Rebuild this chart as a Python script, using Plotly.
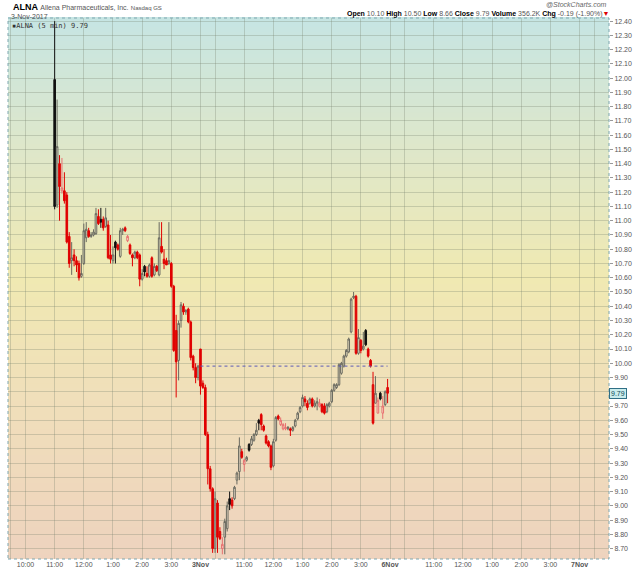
import plotly.graph_objects as go

# ---------------- data ----------------
symbol = "ALNA"
company = "Allena Pharmaceuticals, Inc."
exchange = "Nasdaq GS"
chart_date = "3-Nov-2017"
volume_text = "356.2K"
prev_close = 9.98

bars_per_day = 78          # 9:30 - 16:00, 5-minute bars
nov2_start_slot = 18       # first trade at 11:00
nov3_start_slot = 0

nov2_open = [11.99, 11.11, 11.40, 11.21, 11.21, 11.18, 10.89, 10.72, 10.76, 10.72,
             10.70, 10.61, 10.70, 10.88, 10.93, 10.89, 10.90, 10.91, 11.03, 11.01,
             11.01, 10.96, 10.97, 10.76, 10.72, 10.85, 10.83, 10.75, 10.93, 10.95,
             10.86, 10.83, 10.76, 10.74, 10.78, 10.76, 10.59, 10.68, 10.63, 10.61,
             10.74, 10.62, 10.68, 10.62, 10.82, 10.73, 10.72, 10.70, 10.70, 10.54,
             10.23, 10.02, 10.30, 10.40, 10.36, 10.38, 10.29, 10.05, 9.97, 9.90]
nov2_high = [12.40, 11.85, 11.46, 11.44, 11.34, 11.20, 10.92, 10.85, 10.80, 10.75,
             10.72, 10.76, 10.98, 10.99, 10.95, 10.92, 10.94, 11.09, 11.08, 11.09,
             11.03, 11.09, 11.00, 10.90, 10.82, 10.86, 10.84, 10.95, 10.95, 10.96,
             10.90, 10.84, 10.77, 10.79, 10.79, 10.77, 10.66, 10.69, 10.68, 10.70,
             10.75, 10.70, 10.69, 10.99, 10.99, 10.80, 10.74, 10.99, 10.71, 10.55,
             10.34, 10.30, 10.43, 10.42, 10.38, 10.39, 10.30, 10.06, 10.00, 9.99]
nov2_low = [11.08, 11.09, 11.00, 11.19, 11.12, 10.84, 10.67, 10.62, 10.68, 10.64,
            10.58, 10.60, 10.69, 10.85, 10.88, 10.88, 10.89, 10.90, 10.97, 10.95,
            10.93, 10.95, 10.73, 10.70, 10.70, 10.70, 10.79, 10.74, 10.90, 10.92,
            10.85, 10.76, 10.68, 10.73, 10.73, 10.54, 10.58, 10.61, 10.60, 10.60,
            10.60, 10.61, 10.64, 10.61, 10.77, 10.66, 10.69, 10.69, 10.53, 10.08,
            9.76, 9.88, 10.25, 10.34, 10.34, 10.28, 10.02, 9.95, 9.86, 9.88]
nov2_close = [11.10, 11.52, 11.24, 11.23, 11.14, 10.85, 10.70, 10.74, 10.72, 10.69,
              10.60, 10.63, 10.93, 10.94, 10.89, 10.90, 10.92, 11.05, 10.98, 10.99,
              10.95, 11.02, 10.74, 10.73, 10.76, 10.81, 10.80, 10.93, 10.94, 10.93,
              10.89, 10.77, 10.74, 10.78, 10.74, 10.59, 10.63, 10.64, 10.61, 10.69,
              10.61, 10.68, 10.65, 10.88, 10.78, 10.70, 10.69, 10.72, 10.54, 10.09,
              10.01, 10.28, 10.41, 10.36, 10.37, 10.29, 10.04, 9.97, 9.90, 9.98]

nov3_open = [10.10, 9.86, 9.83, 9.50, 9.26, 9.12, 8.70, 9.02, 8.82, 8.70,
             8.78, 8.84, 9.05, 9.04, 9.05, 9.18, 9.24, 9.38, 9.29, 9.32,
             9.43, 9.43, 9.46, 9.50, 9.60, 9.64, 9.56, 9.49, 9.45, 9.42,
             9.28, 9.46, 9.63, 9.57, 9.54, 9.54, 9.54, 9.54, 9.53, 9.56,
             9.61, 9.66, 9.70, 9.75, 9.72, 9.72, 9.75, 9.70, 9.72, 9.70,
             9.71, 9.70, 9.66, 9.70, 9.73, 9.81, 9.83, 9.85, 9.93, 9.98,
             10.05, 10.08, 10.22, 10.46, 10.47, 10.07, 10.16, 10.10, 10.23, 10.10,
             10.02, 9.85, 9.72, 9.65, 9.79, 9.65, 9.71, 9.83]
nov3_high = [10.10, 9.88, 9.85, 9.52, 9.28, 9.13, 9.10, 9.04, 8.85, 8.78,
             8.91, 9.03, 9.10, 9.06, 9.14, 9.24, 9.48, 9.40, 9.33, 9.35,
             9.44, 9.49, 9.51, 9.58, 9.61, 9.65, 9.57, 9.50, 9.46, 9.43,
             9.47, 9.63, 9.64, 9.62, 9.58, 9.58, 9.56, 9.55, 9.56, 9.61,
             9.66, 9.70, 9.78, 9.77, 9.74, 9.76, 9.76, 9.74, 9.76, 9.75,
             9.72, 9.72, 9.72, 9.73, 9.82, 9.86, 9.86, 10.00, 10.01, 10.06,
             10.10, 10.18, 10.46, 10.50, 10.48, 10.24, 10.17, 10.22, 10.24, 10.11,
             10.03, 9.94, 9.91, 9.76, 9.80, 9.77, 9.81, 9.89]
nov3_low = [9.78, 9.82, 9.49, 9.15, 9.10, 8.67, 8.67, 8.67, 8.76, 8.66,
            8.66, 8.82, 8.97, 8.98, 9.04, 9.15, 9.18, 9.33, 9.24, 9.31,
            9.38, 9.42, 9.45, 9.49, 9.53, 9.53, 9.52, 9.43, 9.41, 9.25,
            9.27, 9.45, 9.60, 9.56, 9.53, 9.53, 9.53, 9.49, 9.52, 9.55,
            9.60, 9.65, 9.69, 9.70, 9.67, 9.71, 9.69, 9.69, 9.67, 9.69,
            9.65, 9.64, 9.65, 9.69, 9.72, 9.80, 9.82, 9.84, 9.92, 9.97,
            10.04, 10.07, 10.21, 10.45, 10.06, 10.06, 10.07, 10.09, 10.12, 10.04,
            9.97, 9.57, 9.72, 9.65, 9.74, 9.61, 9.70, 9.72]
nov3_close = [9.84, 9.83, 9.50, 9.26, 9.12, 8.70, 9.05, 8.78, 8.77, 8.73,
              8.89, 9.00, 9.01, 9.00, 9.13, 9.23, 9.42, 9.34, 9.32, 9.34,
              9.39, 9.47, 9.50, 9.53, 9.58, 9.57, 9.53, 9.44, 9.42, 9.27,
              9.45, 9.62, 9.61, 9.60, 9.57, 9.55, 9.55, 9.53, 9.55, 9.60,
              9.65, 9.69, 9.76, 9.73, 9.69, 9.75, 9.70, 9.72, 9.73, 9.72,
              9.66, 9.65, 9.71, 9.72, 9.81, 9.85, 9.85, 9.99, 10.00, 10.05,
              10.09, 10.17, 10.45, 10.47, 10.07, 10.18, 10.09, 10.12, 10.13, 10.05,
              9.98, 9.58, 9.79, 9.74, 9.75, 9.70, 9.80, 9.79]

# axis labels: trading-day slots for the hour marks (9:30 start, 10:00 ... 3:00)
hour_slots = [0, 6, 18, 30, 42, 54, 66]
day_labels = ["", "3Nov", "6Nov", "7Nov"]
hour_labels = ["", "10:00", "11:00", "12:00", "1:00", "2:00", "3:00"]
price_ticks = [round(8.70 + 0.10 * k, 2) for k in range(38)]   # 8.70 ... 12.40

# ---------------- build ----------------
xs, os_, hs, ls, cs = [], [], [], [], []
for day, start, o, h, l, c in [(0, nov2_start_slot, nov2_open, nov2_high, nov2_low, nov2_close),
                               (1, nov3_start_slot, nov3_open, nov3_high, nov3_low, nov3_close)]:
    for k in range(len(o)):
        xs.append(day * bars_per_day + start + k)
        os_.append(o[k]); hs.append(h[k]); ls.append(l[k]); cs.append(c[k])

groups = {"black": ([], [], [], [], []), "red": ([], [], [], [], [])}
for n in range(len(xs)):
    red = n > 0 and cs[n] < cs[n - 1]
    g = groups["red" if red else "black"]
    for arr, v in zip(g, (xs[n], os_[n], hs[n], ls[n], cs[n])):
        arr.append(v)

fig = go.Figure()

# gradient background strips (paper coordinates)
stops = [(0.0, (238, 211, 190)), (0.30, (240, 223, 186)), (0.52, (240, 233, 178)),
         (0.76, (222, 231, 202)), (1.0, (198, 229, 227))]

def col_at(t):
    for (t0, c0), (t1, c1) in zip(stops[:-1], stops[1:]):
        if t0 <= t <= t1:
            f = (t - t0) / (t1 - t0)
            return "rgb(%d,%d,%d)" % tuple(round(a + (b - a) * f) for a, b in zip(c0, c1))
    return "rgb(%d,%d,%d)" % stops[-1][1]

N = 120
shapes = []
for s in range(N):
    y0, y1 = s / N, (s + 1) / N
    shapes.append(dict(type="rect", xref="paper", yref="paper", x0=0, x1=1, y0=y0, y1=y1 + 0.002,
                       fillcolor=col_at((y0 + y1) / 2), line=dict(width=0), layer="below"))
# dotted frame
shapes.append(dict(type="rect", xref="paper", yref="paper", x0=0, x1=1, y0=0, y1=1,
                   line=dict(color="#7fa7b0", width=1, dash="dot"), fillcolor="rgba(0,0,0,0)", layer="above"))

gx, go_, gh, gl, gc = groups["black"]
fig.add_trace(go.Candlestick(x=gx, open=go_, high=gh, low=gl, close=gc,
                             increasing=dict(line=dict(color="#6a6a60", width=1), fillcolor="rgba(255,255,255,0.25)"),
                             decreasing=dict(line=dict(color="#111111", width=1), fillcolor="#111111"),
                             whiskerwidth=0, hoverinfo="skip", showlegend=False))
rx, ro, rh, rl, rc = groups["red"]
fig.add_trace(go.Candlestick(x=rx, open=ro, high=rh, low=rl, close=rc,
                             increasing=dict(line=dict(color="#e87070", width=1), fillcolor="rgba(255,255,255,0.25)"),
                             decreasing=dict(line=dict(color="#e00000", width=1), fillcolor="#e00000"),
                             whiskerwidth=0, hoverinfo="skip", showlegend=False))

# previous close dotted line across the last session
day3_x = [bars_per_day, bars_per_day + len(nov3_close) - 1]
fig.add_trace(go.Scatter(x=day3_x, y=[prev_close, prev_close], mode="lines",
                         line=dict(color="#5c5cb8", width=1, dash="dot"),
                         hoverinfo="skip", showlegend=False))

tickvals, ticktext = [], []
for d, dl in enumerate(day_labels):
    for hs_, hl in zip(hour_slots, hour_labels):
        pos = d * bars_per_day + hs_
        if pos > 246:
            continue
        if hs_ == 0:
            txt = "<b>%s</b>" % dl if dl else ""
        elif hs_ == 6 and d > 0:
            txt = ""
        else:
            txt = hl
        tickvals.append(pos)
        ticktext.append(txt)

last_close = nov3_close[-1]
day_open = nov3_open[0]
day_high = max(nov3_high)
day_low = min(nov3_low)
chg = last_close - prev_close
chg_pct = chg / prev_close * 100

# the current-price box covers the nearest price label
y_text = ["" if abs(p - last_close) < 0.05 else "%.2f" % p for p in price_ticks]

grid = "rgba(120,128,110,0.30)"
fig.update_layout(
    width=640, height=576,
    margin=dict(l=8, r=30, t=18, b=12),
    paper_bgcolor="white", plot_bgcolor="rgba(0,0,0,0)",
    font=dict(family="Liberation Sans, Arial, sans-serif", size=8, color="#555"),
    shapes=shapes,
    boxgap=0.05,
    showlegend=False,
    xaxis=dict(range=[-1.2, 246.1], tickvals=tickvals, ticktext=ticktext,
               showgrid=True, gridcolor=grid, gridwidth=1, zeroline=False,
               ticks="", tickfont=dict(size=7, color="#555"),
               rangeslider=dict(visible=False), fixedrange=True, showline=False),
    yaxis=dict(range=[8.627, 12.422], side="right", tickvals=price_ticks, ticktext=y_text,
               showgrid=True, gridcolor=grid, gridwidth=1, zeroline=False,
               ticks="outside", ticklen=3, tickcolor="#999", tickfont=dict(size=7, color="#555"),
               showline=False, fixedrange=True),
    annotations=[
        dict(xref="paper", yref="paper", x=0, y=1, xshift=3, yshift=18, xanchor="left", yanchor="top",
             showarrow=False,
             text="<b><span style='font-size:9px;color:#000'>%s</span></b> "
                  "<span style='font-size:7px;color:#555'>%s</span> "
                  "<span style='font-size:6px;color:#555'>%s</span>" % (symbol, company, exchange)),
        dict(xref="paper", yref="paper", x=0, y=1, xshift=1, yshift=7, xanchor="left", yanchor="top",
             showarrow=False, text=chart_date, font=dict(size=7, color="#555")),
        dict(xref="paper", yref="paper", x=1, y=1, xshift=0, yshift=19, xanchor="right", yanchor="top",
             showarrow=False, text="<i>@StockCharts.com</i>", font=dict(size=7, color="#666")),
        dict(xref="paper", yref="paper", x=1, y=1, xshift=2, yshift=10, xanchor="right", yanchor="top",
             showarrow=False,
             text=("<b style='color:#000'>Open</b> %.2f <b style='color:#000'>High</b> %.2f "
                   "<b style='color:#000'>Low</b> %.2f <b style='color:#000'>Close</b> %.2f "
                   "<b style='color:#000'>Volume</b> %s <b style='color:#000'>Chg</b> %.2f (%.2f%%)"
                   "<span style='color:#d00'>▼</span>")
                  % (day_open, day_high, day_low, last_close, volume_text, chg, chg_pct),
             font=dict(size=7, color="#555")),
        dict(xref="paper", yref="paper", x=0, y=1, xshift=2, yshift=-2, xanchor="left", yanchor="top",
             showarrow=False, text="<b>▪</b>%s (5 min) %.2f" % (symbol, last_close),
             font=dict(family="DejaVu Sans Mono, monospace", size=7, color="#333")),
        dict(xref="paper", yref="y", x=1, y=last_close, xanchor="left", yanchor="middle", xshift=0,
             showarrow=False, text="%.2f" % last_close, font=dict(size=7, color="#0b4a5a"),
             bgcolor="#c9ecec", bordercolor="#2f6f86", borderwidth=1, borderpad=1),
    ],
)

fig.write_html("out.html", config={"displayModeBar": False, "staticPlot": True},
               post_script="document.body.style.margin='0';document.body.style.padding='0';")
